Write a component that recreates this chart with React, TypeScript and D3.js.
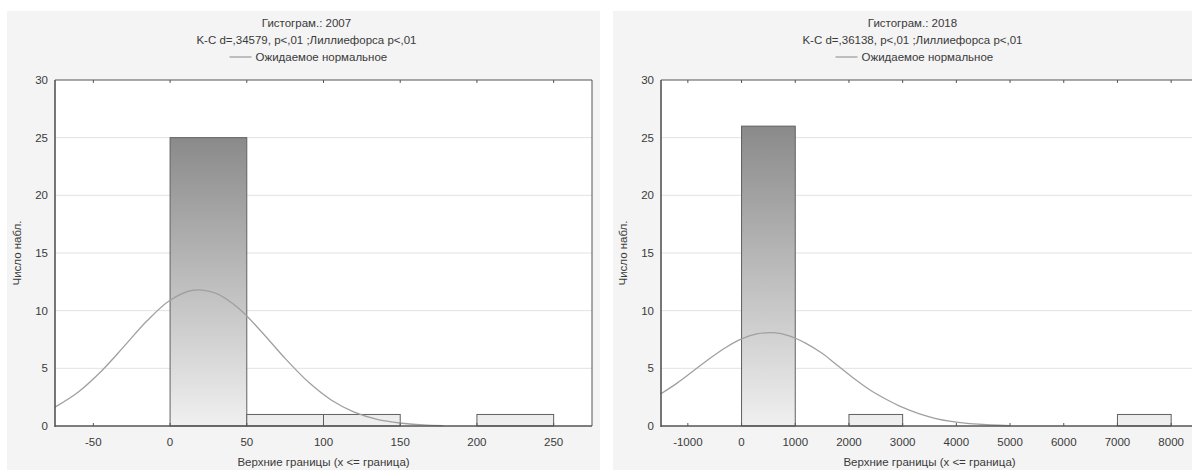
import React, { useEffect, useRef } from 'react';
import * as d3 from 'd3';

// 2007 histogram: lower bin bounds, counts, axis ticks
const binStarts2007 = [0, 50, 100, 150, 200];
const counts2007 = [25, 1, 1, 0, 1];
const ticks2007 = [-50, 0, 50, 100, 150, 200, 250];
// expected normal curve
const curveX2007 = [-75, -60, -45, -30, -15, 0, 15, 30, 45, 60, 75, 90, 105, 120, 135, 150, 165, 178];
const curveY2007 = [1.64, 2.93, 4.73, 6.9, 9.12, 10.9, 11.77, 11.49, 10.16, 8.11, 5.86, 3.83, 2.26, 1.21, 0.58, 0.26, 0.1, 0.03];

// 2018 histogram
const binStarts2018 = [0, 1000, 2000, 3000, 4000, 5000, 6000, 7000];
const counts2018 = [26, 0, 1, 0, 0, 0, 0, 1];
const ticks2018 = [-1000, 0, 1000, 2000, 3000, 4000, 5000, 6000, 7000, 8000];
const curveX2018 = [-1500, -1200, -900, -600, -300, 0, 300, 600, 900, 1200, 1500, 1800, 2100, 2400, 2700, 3000, 3300, 3600, 3900, 4200, 4500, 4800, 5000];
const curveY2018 = [2.8, 3.72, 4.77, 5.83, 6.79, 7.55, 8.0, 8.09, 7.8, 7.17, 6.3, 5.2, 4.1, 3.1, 2.3, 1.61, 1.07, 0.67, 0.4, 0.23, 0.13, 0.066, 0.04];

const yTicks = [0, 5, 10, 15, 20, 25, 30];

const panels = [
  {
    id: 'p2007', x0: 7, title: 'Гистограм.: 2007', stats: 'K-C d=,34579, p<,01 ;Лиллиефорса p<,01',
    domain: [-75, 275], binStarts: binStarts2007, counts: counts2007, binWidth: 50,
    ticks: ticks2007, curveX: curveX2007, curveY: curveY2007,
  },
  {
    id: 'p2018', x0: 613, title: 'Гистограм.: 2018', stats: 'K-C d=,36138, p<,01 ;Лиллиефорса p<,01',
    domain: [-1500, 8500], binStarts: binStarts2018, counts: counts2018, binWidth: 1000,
    ticks: ticks2018, curveX: curveX2018, curveY: curveY2018,
  },
];

const font = '"Liberation Sans Narrow", "Liberation Sans", Arial, sans-serif';

const App = () => {
  const ref = useRef<SVGSVGElement>(null);

  useEffect(() => {
    const svg = d3.select(ref.current);
    svg.selectAll('*').remove();
    const defs = svg.append('defs');

    panels.forEach(p => {
      const W = 607;
      const plotL = p.x0 + 48, plotR = p.x0 + 585, plotT = 80, plotB = 426;
      const x = d3.scaleLinear().domain(p.domain).range([plotL, plotR]);
      const y = d3.scaleLinear().domain([0, 30]).range([plotB, plotT]);

      const g = svg.append('g');
      g.append('rect').attr('x', p.x0).attr('y', 11).attr('width', W - 14).attr('height', 470)
        .attr('fill', '#f4f4f4');

      const cx = p.x0 + W / 2 - 4;
      g.append('text').attr('x', cx).attr('y', 27).attr('text-anchor', 'middle').text(p.title);
      g.append('text').attr('x', cx).attr('y', 44).attr('text-anchor', 'middle').text(p.stats);
      g.append('line').attr('x1', cx - 77).attr('x2', cx - 55).attr('y1', 57).attr('y2', 57)
        .attr('stroke', '#999').attr('stroke-width', 1.2);
      g.append('text').attr('x', cx - 51).attr('y', 61).text('Ожидаемое нормальное');

      g.append('rect').attr('x', plotL).attr('y', plotT).attr('width', plotR - plotL).attr('height', plotB - plotT)
        .attr('fill', '#fff');

      // gridlines
      g.selectAll('.grid').data(yTicks.filter(t => t > 0 && t < 30)).enter().append('line')
        .attr('x1', plotL).attr('x2', plotR).attr('y1', d => y(d)).attr('y2', d => y(d))
        .attr('stroke', '#e2e2e2').attr('stroke-width', 1);

      // bar gradient spans the tallest bar, so small bars stay light
      const maxC = d3.max(p.counts) as number;
      const grad = defs.append('linearGradient').attr('id', 'grad' + p.id)
        .attr('gradientUnits', 'userSpaceOnUse')
        .attr('x1', 0).attr('x2', 0).attr('y1', y(maxC)).attr('y2', y(0));
      grad.append('stop').attr('offset', '0%').attr('stop-color', '#8a8a8a');
      grad.append('stop').attr('offset', '100%').attr('stop-color', '#f0f0f0');

      const bins = p.binStarts.map((b, i) => ({ b, c: p.counts[i] })).filter(d => d.c > 0);
      g.selectAll('.bar').data(bins).enter().append('rect')
        .attr('x', d => x(d.b)).attr('width', d => x(d.b + p.binWidth) - x(d.b))
        .attr('y', d => y(d.c)).attr('height', d => y(0) - y(d.c))
        .attr('fill', `url(#grad${p.id})`).attr('stroke', '#606060').attr('stroke-width', 1);

      // expected normal
      const pts = p.curveX.map((v, i) => [v, p.curveY[i]] as [number, number]);
      const line = d3.line<[number, number]>().x(d => x(d[0])).y(d => y(d[1])).curve(d3.curveCatmullRom);
      g.append('path').attr('d', line(pts)).attr('fill', 'none').attr('stroke', '#a0a0a0').attr('stroke-width', 1.3);

      // frame
      g.append('line').attr('x1', plotL).attr('x2', plotR).attr('y1', plotT).attr('y2', plotT)
        .attr('stroke', '#555').attr('stroke-width', 1.2);
      g.append('line').attr('x1', plotR).attr('x2', plotR).attr('y1', plotT).attr('y2', plotB)
        .attr('stroke', '#555').attr('stroke-width', 1);
      g.append('line').attr('x1', plotL).attr('x2', plotL).attr('y1', plotT).attr('y2', plotB + 1)
        .attr('stroke', '#555').attr('stroke-width', 1.6);
      g.append('line').attr('x1', plotL).attr('x2', plotR).attr('y1', plotB).attr('y2', plotB)
        .attr('stroke', '#555').attr('stroke-width', 1.6);

      // ticks at top (down) and bottom (up)
      g.selectAll('.tt').data(p.ticks).enter().append('line')
        .attr('x1', d => x(d)).attr('x2', d => x(d)).attr('y1', plotT).attr('y2', plotT + 3)
        .attr('stroke', '#555');
      g.selectAll('.tb').data(p.ticks).enter().append('line')
        .attr('x1', d => x(d)).attr('x2', d => x(d)).attr('y1', plotB).attr('y2', plotB - 3)
        .attr('stroke', '#555');

      // tick labels
      g.selectAll('.xl').data(p.ticks).enter().append('text')
        .attr('x', d => x(d)).attr('y', 446).attr('text-anchor', 'middle').text(d => String(d));
      g.selectAll('.yl').data(yTicks).enter().append('text')
        .attr('x', plotL - 7).attr('y', d => y(d) + 4).attr('text-anchor', 'end').text(d => String(d));

      g.append('text').attr('x', (plotL + plotR) / 2).attr('y', 466).attr('text-anchor', 'middle')
        .text('Верхние границы (x <= граница)');
      g.append('text').attr('transform', `translate(${p.x0 + 14},${(plotT + plotB) / 2}) rotate(-90)`)
        .attr('text-anchor', 'middle').text('Число набл.');
    });

    svg.selectAll('text').attr('font-family', font).attr('font-size', 11.5).attr('fill', '#3a3a3a');
  }, []);

  return (
    <svg ref={ref} width={1192} height={470}
      style={{ position: 'absolute', left: 0, top: 0, background: '#fff' }} />
  );
};

export default App;
